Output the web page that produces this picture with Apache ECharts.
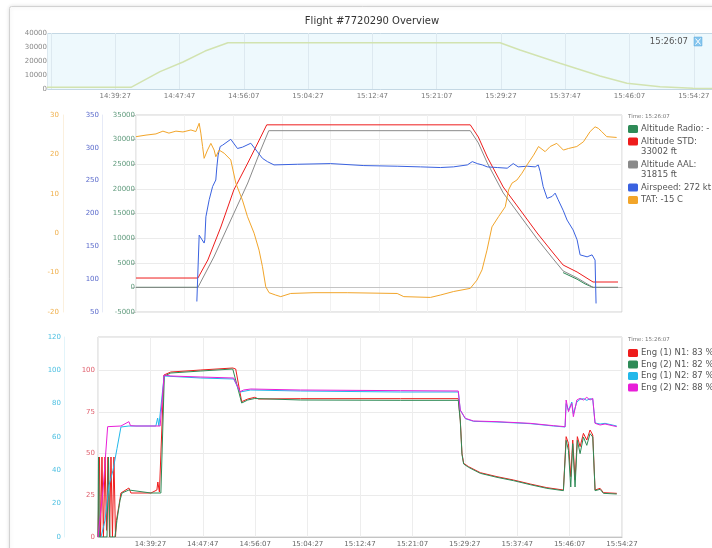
<!DOCTYPE html>
<html><head><meta charset="utf-8">
<script src="https://cdn.jsdelivr.net/npm/echarts@6.0.0/dist/echarts.min.js"></script>
<style>html,body{margin:0;padding:0;background:#fff;}#c{width:712px;height:548px;}</style>
</head><body><div id="c"></div>
<script>
// ---------- data (x = seconds after 14:31:07) ----------
const baseTime = '14:31:07';
const chartTitle = 'Flight #7720290 Overview';
const cursorTime = '15:26:07';

// overview altitude
const ovT   = [-30, 623, 849, 1028, 1199, 1377, 3493, 3648, 3959, 4270, 4480, 4737, 4993, 5180];
const ovAlt = [1200, 1200, 12400, 19300, 27100, 33000, 33000, 27900, 18400, 9300, 4100, 1600, 500, 350];

// middle panel
const radioT = [0, 637, 660, 4394, 4538, 4620, 4702, 4959];
const radioV = [0, 0, null, 3000, 1650, 700, 0, 0];
const stdT = [0, 637, 739, 873, 1006, 1150, 1253, 1345, 3439, 3522, 3614, 3778, 3953, 4127, 4292, 4394, 4538, 4702, 4959];
const stdV = [1900, 1900, 5560, 12260, 19770, 25250, 29320, 33002, 33002, 30530, 26470, 20380, 15710, 11040, 6980, 4540, 3120, 1090, 1090];
const aalT = [0, 637, 801, 975, 1150, 1283, 1366, 3439, 3522, 3614, 3778, 3953, 4127, 4292, 4394, 4538, 4702, 4959];
const aalV = [0, 0, 6170, 13680, 21190, 27890, 31815, 31815, 29330, 25270, 19180, 14510, 9840, 5780, 3340, 1920, 0, 0];
const asT = [626, 650, 701, 708, 719, 753, 788, 821, 832, 845, 866, 890, 975, 1044, 1095, 1181, 1249, 1301, 1352, 1420, 1660, 2002, 2344, 2687, 2926, 3131, 3265, 3409, 3460, 3511, 3563, 3614, 3717, 3819, 3881, 3932, 4025, 4107, 4138, 4158, 4189, 4230, 4281, 4312, 4343, 4394, 4435, 4497, 4538, 4569, 4641, 4692, 4723, 4733];
const asV = [66, 167, 155, 160, 195, 221, 241, 251, 271, 289, 302, 304, 313, 299, 301, 307, 294, 284, 279, 274, 275, 276, 273, 272, 271, 270, 271, 274, 279, 276, 274, 271, 270, 269, 276, 271, 272, 271, 274, 264, 241, 223, 226, 231, 221, 205, 190, 175, 160, 137, 134, 137, 129, 63];
const tatT = [0, 103, 205, 277, 339, 411, 483, 565, 616, 650, 667, 685, 701, 736, 770, 804, 821, 855, 907, 975, 1027, 1095, 1147, 1215, 1266, 1301, 1335, 1369, 1437, 1489, 1591, 1831, 2173, 2687, 2755, 3029, 3131, 3268, 3439, 3508, 3560, 3611, 3662, 3730, 3799, 3833, 3868, 3919, 3970, 4022, 4090, 4141, 4209, 4261, 4329, 4397, 4449, 4535, 4603, 4672, 4723, 4757, 4791, 4843, 4945];
const tatV = [24.5, 24.9, 25.2, 25.9, 25.4, 25.9, 25.7, 26.2, 25.8, 27.9, 25.4, 22.0, 19.0, 21.1, 22.8, 21.1, 19.4, 21.1, 20.3, 18.6, 12.7, 8.4, 4.2, 0.0, -4.3, -8.5, -13.6, -15.1, -15.7, -16.1, -15.3, -15.1, -15.1, -15.3, -16.1, -16.3, -15.7, -14.8, -14.0, -11.9, -9.3, -4.3, 1.6, 4.2, 6.7, 11.0, 12.7, 13.5, 15.2, 17.3, 19.8, 22.0, 20.7, 22.0, 22.8, 21.1, 21.5, 22.0, 23.2, 25.8, 27.0, 26.6, 25.8, 24.5, 24.3];

// engine panel
const n1e1T = [0, 14, 24, 38, 52, 67, 81, 95, 110, 124, 138, 152, 167, 176, 200, 219, 295, 314, 505, 562, 571, 586, 600, 629, 695, 981, 1286, 1314, 1371, 1429, 1495, 1533, 1933, 2886, 3438, 3457, 3473, 3489, 3536, 3648, 3807, 3965, 4124, 4283, 4441, 4457, 4467, 4489, 4511, 4530, 4552, 4574, 4600, 4632, 4664, 4695, 4721, 4743, 4791, 4823, 4950];
const n1e1V = [0, 48, 0, 48, 0, 48, 4, 48, 0, 48, 0, 48, 0, 10, 19, 26.4, 29.4, 26.4, 26.4, 28.2, 33, 27, 26.4, 97.2, 99, 100.2, 101.4, 100.8, 81.2, 82.8, 83.8, 82.8, 83, 83, 83, 70.2, 50.2, 44.2, 42.2, 38.6, 36.2, 34.2, 31.8, 29.6, 28.2, 27.8, 60.2, 56.2, 36.2, 58.2, 34.2, 60.2, 54.2, 62.2, 58.2, 64.2, 61.2, 28.2, 29.2, 26.6, 26.2];
const n1e2T = [0, 5, 14, 86, 100, 114, 162, 181, 210, 229, 295, 505, 600, 633, 695, 981, 1286, 1371, 1429, 1495, 1933, 2886, 3438, 3457, 3473, 3489, 3536, 3648, 3807, 3965, 4124, 4283, 4441, 4457, 4467, 4489, 4511, 4530, 4552, 4574, 4600, 4632, 4664, 4695, 4721, 4743, 4791, 4823, 4950];
const n1e2V = [0, 48, 0, 0, 48, 0, 0, 10, 22, 26.4, 28.2, 26.4, 26.4, 96.6, 98.4, 99.6, 100.8, 80.4, 82.2, 83.1, 82.2, 82, 82, 69.6, 49.6, 43.8, 41.8, 38.2, 35.8, 33.8, 31.4, 29.2, 27.8, 27.4, 58, 52, 30, 56, 30, 58, 50, 60, 55, 62, 60, 27.8, 28.6, 26.2, 25.8];
const n2e1T = [29, 67, 105, 143, 181, 219, 295, 552, 569, 581, 600, 631, 981, 1295, 1355, 1457, 1933, 2886, 3438, 3457, 3505, 3584, 3807, 4124, 4346, 4457, 4467, 4489, 4521, 4536, 4569, 4600, 4632, 4664, 4695, 4721, 4743, 4791, 4838, 4950];
const n2e1V = [0, 10, 31, 40, 53, 66, 66.6, 66.6, 71.4, 66.6, 66.6, 96.6, 95.4, 94.8, 87, 88.2, 87.6, 87, 87, 76, 71, 69.4, 69, 68, 66.6, 66, 80, 76, 81, 74, 81, 82.6, 83, 82, 83, 82.6, 68.4, 67.8, 68.2, 66.6];
const n2e2T = [0, 10, 48, 92, 219, 295, 310, 362, 593, 631, 695, 981, 1295, 1355, 1390, 1457, 1933, 2886, 3438, 3457, 3505, 3584, 3807, 4124, 4346, 4457, 4467, 4489, 4521, 4536, 4569, 4600, 4632, 4664, 4695, 4721, 4743, 4791, 4838, 4950];
const n2e2V = [0, 0, 28, 66.2, 66.6, 69.2, 66.8, 66.6, 66.6, 97.2, 96.6, 96, 95.4, 87.2, 88.2, 88.8, 88.2, 87.8, 87.6, 76.2, 71.2, 69.6, 69.2, 68.2, 66.8, 66.2, 82.2, 75.2, 80.2, 72.2, 82.2, 83.2, 82.2, 83.8, 82.2, 83.2, 68.2, 67.2, 67.8, 66.2];

// legends
const midNames = ['Altitude Radio', 'Altitude STD', 'Altitude AAL', 'Airspeed', 'TAT'];
const midLegendTexts = ['Altitude Radio: -', 'Altitude STD:\n33002 ft', 'Altitude AAL:\n31815 ft', 'Airspeed: 272 kt', 'TAT: -15 C'];
const engNames = ['Eng (1) N1', 'Eng (2) N1', 'Eng (1) N2', 'Eng (2) N2'];
const engLegendTexts = ['Eng (1) N1: 83 %', 'Eng (2) N1: 82 %', 'Eng (1) N2: 87 %', 'Eng (2) N2: 88 %'];

// axis ticks
const xTickStep = 500;
const ovYTicks = [0, 40000, 10000];
const altTicks = [-5000, 35000, 5000];
const spdTicks = [50, 350, 50];
const tatTicks = [-20, 30, 10];
const n1Ticks = [0, 120, 25];
const n2Ticks = [0, 120, 20];

// ---------- helpers ----------
const FONT = 'DejaVu Sans';
const baseSec = (function(){ const p = baseTime.split(':').map(Number); return p[0]*3600 + p[1]*60 + p[2]; })();
function hms(v){
  let s = Math.round(baseSec + v);
  const h = Math.floor(s/3600), m = Math.floor((s%3600)/60), ss = s%60;
  return h + ':' + String(m).padStart(2,'0') + ':' + String(ss).padStart(2,'0');
}
function zip(t, v){ const n = Math.min(t.length, v.length); const out = []; for (let i=0;i<n;i++) out.push([t[i], v[i] == null ? '-' : v[i]]); return out; }
const plain = v => String(v);

const COL = {
  radio:'#2e8b57', std:'#ee1c1c', aal:'#8a8a8a', spd:'#3a62e0', tat:'#f2a52a',
  e1n1:'#ee1c1c', e2n1:'#2e8b57', e1n2:'#22b8ea', e2n2:'#e81ed8'
};
const midColors = [COL.radio, COL.std, COL.aal, COL.spd, COL.tat];
const engColors = [COL.e1n1, COL.e2n1, COL.e1n2, COL.e2n2];

function lineSeries(name, x, y, data, color, z){
  return { name, type:'line', xAxisIndex:x, yAxisIndex:y, data, showSymbol:false, symbol:'none',
    lineStyle:{ color, width:1 }, itemStyle:{ color }, z: z || 2, silent:true, animation:false, clip:true };
}

// legend graphics
function legendGraphics(texts, colors, x, firstY, lineH, gap, timeY){
  const els = [{ type:'text', x:x, y:timeY, z:50, style:{ text:'Time: ' + cursorTime, fill:'#777', font:'5.5px "DejaVu Sans"', verticalAlign:'middle' } }];
  let y = firstY;
  texts.forEach((t, i) => {
    const lines = t.split('\n').length;
    els.push({ type:'rect', z:50, shape:{ x:x, y:y-4, width:10, height:8, r:1.5 }, style:{ fill:colors[i] } });
    els.push({ type:'text', z:50, x:x+13, y:y-lineH/2, style:{ text:t, fill:'#555', font:'8.5px "DejaVu Sans"', lineHeight:lineH, verticalAlign:'top' } });
    y += lines*lineH + gap;
  });
  return els;
}

const graphics = [
  { type:'rect', z:-20, shape:{ x:9.5, y:6.5, width:730, height:570, r:2 }, style:{ fill:'#fff', stroke:'#d2d2d2', lineWidth:1, shadowBlur:4, shadowColor:'rgba(0,0,0,0.12)' } },
  { type:'rect', z:-10, shape:{ x:47.5, y:33.5, width:680, height:56 }, style:{ fill:'#eef9fd', stroke:'#c4d8e4', lineWidth:1 } },
  { type:'text', z:50, x:688, y:42, style:{ text:cursorTime, fill:'#555', font:'8.5px "DejaVu Sans"', align:'right', verticalAlign:'middle' } },
  { type:'rect', z:50, shape:{ x:694, y:37, width:8, height:9 }, style:{ fill:'#86c6ee', stroke:'#5aa8dc', lineWidth:0.5 } },
  { type:'line', z:51, shape:{ x1:695.5, y1:38.5, x2:700.5, y2:44.5 }, style:{ stroke:'#fff', lineWidth:1 } },
  { type:'line', z:51, shape:{ x1:700.5, y1:38.5, x2:695.5, y2:44.5 }, style:{ stroke:'#fff', lineWidth:1 } }
].concat(
  legendGraphics(midLegendTexts, midColors, 628, 129, 10.5, 2, 117),
  legendGraphics(engLegendTexts, engColors, 628, 353, 10.5, 1, 340)
);

const ovLabelFmt = v => { const r = Math.round(v); return (r > 0 && r % xTickStep === 0) ? hms(v) : ''; };

const option = {
  animation:false,
  textStyle:{ fontFamily:FONT },
  title:{ text:chartTitle, left:372, top:16, padding:0, textAlign:'center', textVerticalAlign:'top',
    textStyle:{ fontSize:10, fontWeight:'normal', color:'#333', fontFamily:FONT } },
  graphic:{ elements:graphics },
  grid:[
    { left:47, top:33, width:670, height:56, outerBoundsMode:'none', containLabel:false },
    { left:136, top:115, right:90, height:197, outerBoundsMode:'none', containLabel:false, show:true, borderColor:'#d0d0d0', borderWidth:1, backgroundColor:'transparent' },
    { left:98, top:337, right:90, height:200, outerBoundsMode:'none', containLabel:false, show:true, borderColor:'#d0d0d0', borderWidth:1, backgroundColor:'transparent' }
  ],
  xAxis:[
    { type:'value', gridIndex:0, min:-30, max:5180, minInterval:xTickStep, maxInterval:xTickStep,
      axisLine:{ show:false }, axisTick:{ show:false },
      axisLabel:{ formatter:ovLabelFmt, fontSize:7, color:'#777', margin:4, showMinLabel:false, showMaxLabel:false, hideOverlap:false },
      splitLine:{ show:true, lineStyle:{ color:'#dde9f0', width:1 } } },
    { type:'value', gridIndex:1, min:0, max:5000, interval:xTickStep,
      axisLine:{ show:true, lineStyle:{ color:'#c4c4c4' } }, axisTick:{ show:false }, axisLabel:{ show:false },
      splitLine:{ show:true, lineStyle:{ color:'#f1f1f1' } } },
    { type:'value', gridIndex:2, min:0, max:5000, interval:xTickStep,
      axisLine:{ show:true, lineStyle:{ color:'#c4c4c4' } }, axisTick:{ show:false },
      axisLabel:{ formatter:v => hms(v), fontSize:7, color:'#666', margin:4, showMinLabel:false, showMaxLabel:true, hideOverlap:false },
      splitLine:{ show:true, lineStyle:{ color:'#ededed' } } }
  ],
  yAxis:[
    { type:'value', gridIndex:0, min:ovYTicks[0], max:ovYTicks[1], interval:ovYTicks[2],
      axisLine:{ show:false }, axisTick:{ show:false }, splitLine:{ show:false },
      axisLabel:{ fontSize:7, color:'#888', margin:0, formatter:plain } },
    { type:'value', gridIndex:1, position:'left', offset:0, min:altTicks[0], max:altTicks[1], interval:altTicks[2],
      axisLine:{ show:false }, axisTick:{ show:true, length:4, lineStyle:{ color:'#cfcfcf' } },
      axisLabel:{ fontSize:7, color:'#5f9a7c', margin:1, formatter:plain },
      splitLine:{ show:true, lineStyle:{ color:'#ebebeb' } } },
    { type:'value', gridIndex:1, position:'left', offset:34, min:spdTicks[0], max:spdTicks[1], interval:spdTicks[2],
      axisLine:{ show:true, lineStyle:{ color:'#e6eaf7' } }, axisTick:{ show:false },
      axisLabel:{ fontSize:7, color:'#5b6bcc', margin:3, formatter:plain }, splitLine:{ show:false } },
    { type:'value', gridIndex:1, position:'left', offset:73, min:tatTicks[0], max:tatTicks[1], interval:tatTicks[2],
      axisLine:{ show:true, lineStyle:{ color:'#fbf0de' } }, axisTick:{ show:false },
      axisLabel:{ fontSize:7, color:'#f0b04c', margin:4, formatter:plain }, splitLine:{ show:false } },
    { type:'value', gridIndex:2, position:'left', offset:0, min:n1Ticks[0], max:n1Ticks[1], interval:n1Ticks[2],
      axisLine:{ show:false }, axisTick:{ show:false },
      axisLabel:{ fontSize:7, color:'#e0606e', margin:3, showMaxLabel:false, formatter:plain },
      splitLine:{ show:true, lineStyle:{ color:'#ebebeb' } } },
    { type:'value', gridIndex:2, position:'left', offset:34, min:n2Ticks[0], max:n2Ticks[1], interval:n2Ticks[2],
      axisLine:{ show:true, lineStyle:{ color:'#e2f4fa' } }, axisTick:{ show:false },
      axisLabel:{ fontSize:7, color:'#4ec0e2', margin:3, formatter:plain }, splitLine:{ show:false } }
  ],
  series:[
    { name:'Altitude', type:'line', xAxisIndex:0, yAxisIndex:0, data:zip(ovT, ovAlt), showSymbol:false, symbol:'none',
      lineStyle:{ color:'#d2e3b0', width:1.5 }, silent:true, animation:false },
    lineSeries(midNames[0], 1, 1, zip(radioT, radioV), COL.radio),
    lineSeries(midNames[1], 1, 1, zip(stdT, stdV), COL.std),
    lineSeries(midNames[2], 1, 1, zip(aalT, aalV), COL.aal),
    lineSeries(midNames[3], 1, 2, zip(asT, asV), COL.spd),
    lineSeries(midNames[4], 1, 3, zip(tatT, tatV), COL.tat),
    lineSeries(engNames[0], 2, 4, zip(n1e1T, n1e1V), COL.e1n1),
    lineSeries(engNames[1], 2, 4, zip(n1e2T, n1e2V), COL.e2n1),
    lineSeries(engNames[2], 2, 5, zip(n2e1T, n2e1V), COL.e1n2),
    lineSeries(engNames[3], 2, 5, zip(n2e2T, n2e2V), COL.e2n2)
  ]
};
const chart = echarts.init(document.getElementById('c'), null, { renderer:'canvas' });
chart.setOption(option);
</script>
</body></html>
